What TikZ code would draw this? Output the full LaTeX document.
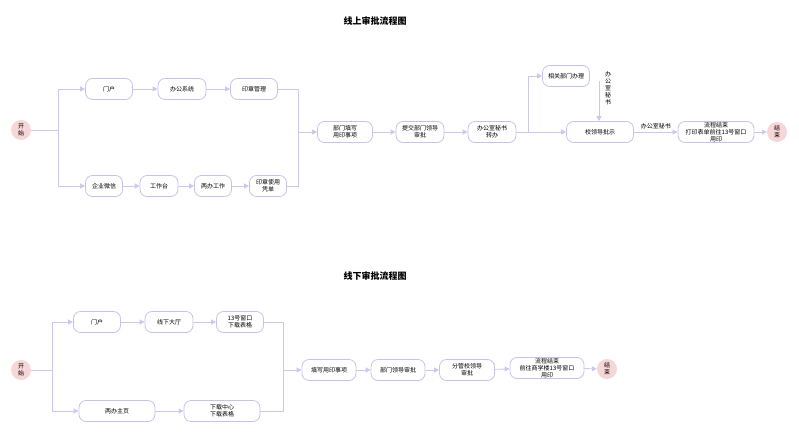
\documentclass[tikz,border=0pt]{standalone}
\usepackage{fontspec}
\newfontfamily\cjk{Noto Sans CJK SC}
\usetikzlibrary{arrows.meta}
\definecolor{ln}{RGB}{200,200,240}
\definecolor{bd}{RGB}{195,195,235}
\definecolor{sc}{RGB}{246,214,214}
\begin{document}
\begin{tikzpicture}[x=1pt,y=-1pt,
 every node/.style={font=\cjk\fontsize{6}{7}\selectfont,align=center,inner sep=0},
 box/.style={draw=bd,line width=0.8pt,rounded corners=7pt,minimum height=21pt,fill=white},
 term/.style={circle,fill=sc,minimum size=20pt},
 ar/.style={draw=ln,line width=0.9pt,-{Triangle[length=5pt,width=5pt]}},
 ln/.style={draw=ln,line width=0.9pt}]
\useasboundingbox (0,0) rectangle (799,434);
\node[font=\cjk\bfseries\fontsize{9}{10}\selectfont] (t1) at (375,21) {线上审批流程图};
\node[font=\cjk\bfseries\fontsize{9}{10}\selectfont] (t2) at (375,276) {线下审批流程图};
% top
\node[term] (s1) at (21,130) {开\\始};
\node[box,minimum width=47pt] (a1) at (109,89) {门户};
\node[box,minimum width=48pt] (a2) at (182,89) {办公系统};
\node[box,minimum width=47pt] (a3) at (254,89) {印章管理};
\node[box,minimum width=37pt] (b1) at (104,186) {企业微信};
\node[box,minimum width=38pt] (b2) at (159,186) {工作台};
\node[box,minimum width=37pt] (b3) at (213,186) {两办工作};
\node[box,minimum width=37pt] (b4) at (268,186) {印章使用\\凭单};
\node[box,minimum width=55pt] (c1) at (345,132) {部门填写\\用印事项};
\node[box,minimum width=48pt] (c2) at (420,132) {提交部门领导\\审批};
\node[box,minimum width=48pt] (c3) at (492,132) {办公室秘书\\转办};
\node[box,minimum width=47pt] (c4) at (566,76) {相关部门办理};
\node[box,minimum width=67pt] (c5) at (600,132) {校领导批示};
\node[box,minimum width=76pt] (c6) at (716,132) {流程结束\\打印表单前往13号窗口\\用印};
\node[term] (e1) at (777,132) {结\\束};
\coordinate (j1) at (58,130);
\coordinate (m1) at (298,132);
\coordinate (k1) at (528,132);
\coordinate (v1) at (599,81);
\draw[ln] (s1) -- (j1);
\draw[ar] (j1) |- (a1);
\draw[ar] (j1) |- (b1);
\draw[ar] (a1) -- (a2); \draw[ar] (a2) -- (a3);
\draw[ar] (b1) -- (b2); \draw[ar] (b2) -- (b3); \draw[ar] (b3) -- (b4);
\draw[ln] (a3) -| (m1); \draw[ln] (b4) -| (m1);
\draw[ar] (m1) -- (c1);
\draw[ar] (c1) -- (c2); \draw[ar] (c2) -- (c3);
\draw[ln] (c3) -- (k1);
\draw[ar] (k1) |- (c4);
\draw[ar] (k1) -- (c5);
\draw[ar] (v1) -- (v1 |- c5.north);
\node (l1) at (608,88) {办\\公\\室\\秘\\书};
\draw[ar] (c5) -- node[above=3pt] {办公室秘书} (c6);
\draw[ar] (c6) -- (e1);
% bottom
\node[term] (s2) at (21,370) {开\\始};
\node[box,minimum width=47pt] (d1) at (97,322) {门户};
\node[box,minimum width=48pt] (d2) at (169,322) {线下大厅};
\node[box,minimum width=47pt] (d3) at (240,322) {13号窗口\\下载表格};
\node[box,minimum width=76pt] (f1) at (117,411) {两办主页};
\node[box,minimum width=76pt] (f2) at (222,411) {下载中心\\下载表格};
\node[box,minimum width=54pt] (g1) at (329,370) {填写用印事项};
\node[box,minimum width=54pt] (g2) at (398,370) {部门领导审批};
\node[box,minimum width=55pt] (g3) at (467,370) {分管校领导\\审批};
\node[box,minimum width=74pt] (g4) at (547,368) {流程结束\\前往商学楼13号窗口\\用印};
\node[term] (e2) at (607,369) {结\\束};
\coordinate (j2) at (52,370);
\coordinate (m2) at (283,370);
\draw[ln] (s2) -- (j2);
\draw[ar] (j2) |- (d1); \draw[ar] (j2) |- (f1);
\draw[ar] (d1) -- (d2); \draw[ar] (d2) -- (d3);
\draw[ar] (f1) -- (f2);
\draw[ln] (d3) -| (m2); \draw[ln] (f2) -| (m2);
\draw[ar] (m2) -- (g1);
\draw[ar] (g1) -- (g2); \draw[ar] (g2) -- (g3); \draw[ar] (g3) -- (g4);
\draw[ar] (g4) -- (e2);
\end{tikzpicture}
\end{document}
